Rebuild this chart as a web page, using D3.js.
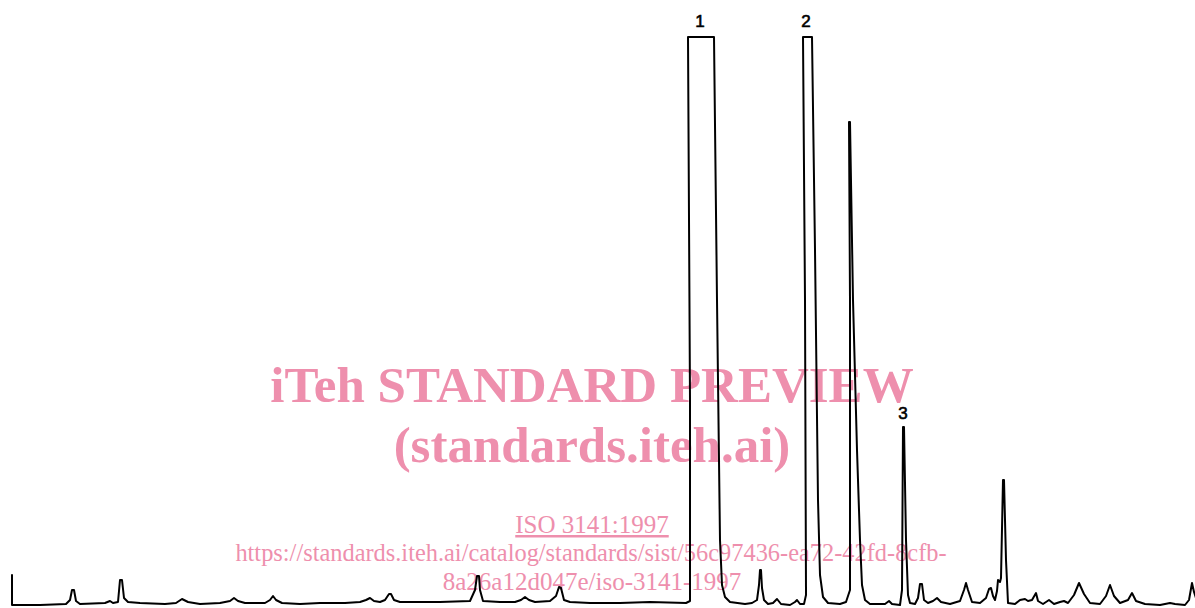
<!DOCTYPE html>
<html><head><meta charset="utf-8">
<script src="https://cdn.jsdelivr.net/npm/d3@7"></script>
<style>html,body{margin:0;padding:0;background:#fff;overflow:hidden}</style>
</head><body><svg id="c" width="1195" height="608"></svg>
<script>
// Retention time (arbitrary units) and detector response (arbitrary units)
const time = [1.2,1.2,4.0,6.6,7.0,7.2,7.4,7.6,8.0,10.5,11.0,11.3,11.8,12.0,12.2,12.4,12.8,14.0,16.5,17.6,18.2,18.8,20.0,22.0,23.0,23.4,23.8,24.5,26.5,27.0,27.3,27.6,28.2,30.0,32.0,34.5,36.0,36.6,37.0,37.4,38.0,38.5,38.9,39.1,39.4,40.0,44.0,47.0,47.5,47.7,47.9,48.0,48.3,50.0,51.5,52.1,52.5,52.9,53.5,55.0,55.6,55.9,56.1,56.4,57.0,59.0,62.0,65.0,68.6,69.0,69.0,68.8,71.4,71.7,72.0,72.2,72.5,73.0,74.5,75.2,75.7,75.9,76.0,76.1,76.2,76.4,76.8,77.3,77.7,78.1,79.0,79.5,79.7,80.0,80.4,80.6,80.5,80.3,81.2,81.5,81.8,82.0,82.3,82.8,84.0,84.6,85.0,85.0,84.9,85.0,85.3,85.7,86.0,86.2,86.5,87.0,88.5,88.9,89.2,90.0,90.2,90.3,90.4,90.6,90.8,91.0,91.5,91.8,92.0,92.2,92.4,92.8,93.3,93.7,94.1,95.0,96.0,96.4,96.6,96.8,97.2,98.0,98.6,98.9,99.1,99.3,99.5,99.7,99.8,100.0,100.1,100.3,100.4,100.6,100.8,101.5,102.0,102.5,102.8,103.2,103.6,103.8,104.3,104.9,105.4,106.0,106.4,106.8,107.4,107.9,108.4,109.0,110.0,110.6,111.0,111.4,112.0,112.8,113.2,113.6,114.5,116.0,117.0,117.5,118.5,118.9,119.2,119.4,119.6];
const signal = [3.0,0,0,0.1,0.5,1.5,1.5,0.4,0.1,0.2,0.4,0.2,0.3,2.5,2.5,0.7,0.3,0.2,0.1,0.2,0.6,0.3,0.1,0.2,0.4,0.7,0.4,0.2,0.2,0.5,0.9,0.5,0.2,0.1,0.2,0.2,0.3,0.5,0.7,0.4,0.3,0.5,1.1,1.1,0.5,0.3,0.3,0.4,1.5,2.9,2.9,1.5,0.4,0.3,0.3,0.5,0.8,0.5,0.3,0.4,0.9,1.8,1.7,0.5,0.3,0.2,0.2,0.3,0.2,0.4,20.5,56.8,56.8,30.5,6.5,2.0,0.8,0.3,0.1,0.2,0.5,2.0,3.5,3.5,1.7,0.5,0.1,0.2,0.6,0.1,0,0.3,0.5,0.1,0.1,1.0,30.5,56.8,56.8,35.5,10.5,3.0,0.8,0.2,0.1,0.3,1.5,30.5,48.3,48.3,30.5,15.5,6.5,2.0,0.5,0.1,0.1,0.4,0.1,0,1.5,17.8,17.8,6.5,1.0,0.2,0.1,0.7,2.1,2.1,0.5,0.2,0.4,0.7,0.3,0.1,0.4,1.5,2.2,1.5,0.3,0.2,0.7,1.6,1.7,0.9,0.5,1.4,2.5,2.3,2.7,12.5,12.5,4.5,0.2,0.1,0.5,0.6,0.4,0.5,1.2,0.4,0.1,0.5,0.1,0.3,0.4,0.2,1.0,2.2,1.1,0.2,0.1,0.9,2.0,0.9,0.2,0.5,1.2,0.4,0.1,0,0.2,0.1,0,0.5,2.2,1.3,0.7];
const peakLabels = ["1","2","3"];
const peakLabelTime = [70.0, 80.6, 90.3];
const peakLabelSignal = [57.8, 57.8, 18.6];
const watermarkTitle = ["iTeh STANDARD PREVIEW", "(standards.iteh.ai)"];
const watermarkSmall = ["ISO 3141:1997",
  "https://standards.iteh.ai/catalog/standards/sist/56c97436-ea72-42fd-8cfb-",
  "8a26a12d047e/iso-3141-1997"];

const svg = d3.select("#c");
const x = d3.scaleLinear().domain([0, 119.5]).range([0, 1195]);
const y = d3.scaleLinear().domain([0, 60]).range([605, 5]);

// watermark (behind trace)
const pink = "#ee8fad";
const wm = svg.append("g").attr("fill", pink).attr("text-anchor", "middle");
wm.selectAll("text.big").data(watermarkTitle).join("text")
  .attr("class","big")
  .attr("x", 592).attr("y", (d,i)=> 402 + i*60)
  .attr("font-family", "'Liberation Serif','Times New Roman',serif")
  .attr("font-weight", "bold").attr("font-size", 51)
  .text(d=>d);
wm.selectAll("text.small").data(watermarkSmall).join("text")
  .attr("class","small")
  .attr("x", (d,i)=> i===1 ? 591 : 592).attr("y", (d,i)=> [533, 561, 590][i])
  .attr("font-family", "'Liberation Serif','Times New Roman',serif")
  .attr("font-size", (d,i)=> i===1 ? 24.4 : 25)
  .attr("text-decoration", (d,i)=> i===0 ? "underline" : null)
  .text(d=>d);

const pts = time.map((t,i)=>[t, signal[i]]);
const line = d3.line().x(d=>x(d[0])).y(d=>y(d[1])).curve(d3.curveLinear);
svg.append("path").datum(pts).attr("d", line)
  .attr("fill","none").attr("stroke","#000").attr("stroke-width",2)
  .attr("stroke-linejoin","round").attr("stroke-linecap","round");

svg.selectAll("text.lab").data(peakLabels).join("text")
  .attr("class","lab")
  .attr("x",(d,i)=>x(peakLabelTime[i])).attr("y",(d,i)=>y(peakLabelSignal[i]))
  .attr("text-anchor","middle")
  .attr("font-family","'Liberation Sans',Arial,sans-serif").attr("font-size",17)
  .attr("fill","#000").attr("stroke","#000").attr("stroke-width",0.6)
  .text(d=>d);
</script></body></html>
